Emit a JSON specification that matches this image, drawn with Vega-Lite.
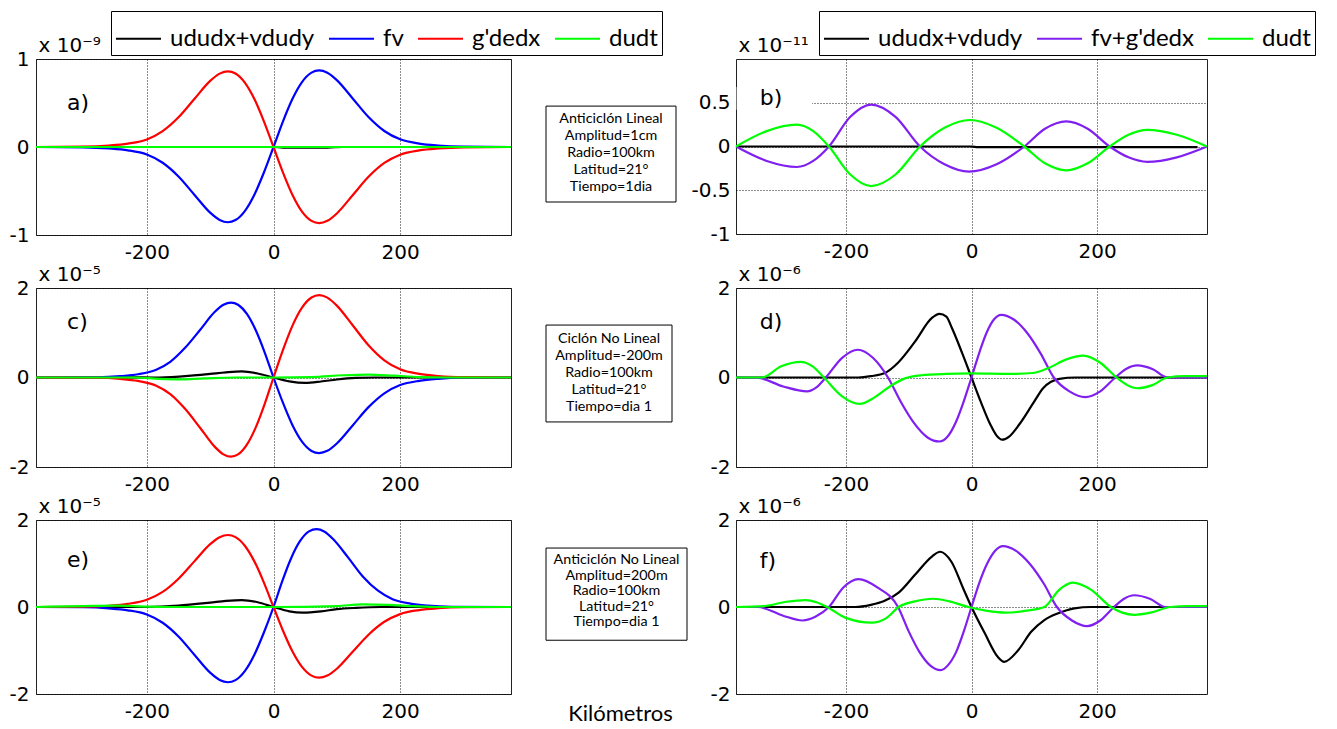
{
  "$schema": "https://vega.github.io/schema/vega-lite/v6.json",
  "autosize": {"type": "pad"},
  "padding": {"left": 5, "top": 10, "right": 5, "bottom": 2},
  "background": "white",
  "datasets": {
    "curves": [
      {"p":"a","s":"ududx+vdudy","x":-375,"y":0},{"p":"a","s":"ududx+vdudy","x":0,"y":0},{"p":"a","s":"ududx+vdudy","x":15,"y":-0.006},{"p":"a","s":"ududx+vdudy","x":85,"y":-0.006},{"p":"a","s":"ududx+vdudy","x":110,"y":0},{"p":"a","s":"ududx+vdudy","x":375,"y":0},
      {"p":"a","s":"fv","x":-375,"y":0},{"p":"a","s":"fv","x":-300,"y":-0.004},{"p":"a","s":"fv","x":-260,"y":-0.017},{"p":"a","s":"fv","x":-230,"y":-0.038},{"p":"a","s":"fv","x":-200,"y":-0.086},{"p":"a","s":"fv","x":-175,"y":-0.179},{"p":"a","s":"fv","x":-150,"y":-0.335},{"p":"a","s":"fv","x":-125,"y":-0.542},{"p":"a","s":"fv","x":-100,"y":-0.746},{"p":"a","s":"fv","x":-85,"y":-0.829},{"p":"a","s":"fv","x":-72,"y":-0.855},{"p":"a","s":"fv","x":-60,"y":-0.830},{"p":"a","s":"fv","x":-45,"y":-0.725},{"p":"a","s":"fv","x":-30,"y":-0.539},{"p":"a","s":"fv","x":-15,"y":-0.287},{"p":"a","s":"fv","x":0,"y":0},{"p":"a","s":"fv","x":15,"y":0.292},{"p":"a","s":"fv","x":30,"y":0.548},{"p":"a","s":"fv","x":45,"y":0.738},{"p":"a","s":"fv","x":60,"y":0.845},{"p":"a","s":"fv","x":72,"y":0.87},{"p":"a","s":"fv","x":85,"y":0.844},{"p":"a","s":"fv","x":100,"y":0.760},{"p":"a","s":"fv","x":125,"y":0.552},{"p":"a","s":"fv","x":150,"y":0.341},{"p":"a","s":"fv","x":175,"y":0.182},{"p":"a","s":"fv","x":200,"y":0.087},{"p":"a","s":"fv","x":230,"y":0.039},{"p":"a","s":"fv","x":260,"y":0.017},{"p":"a","s":"fv","x":300,"y":0.004},{"p":"a","s":"fv","x":375,"y":0},
      {"p":"a","s":"g'dedx","x":-375,"y":0},{"p":"a","s":"g'dedx","x":-300,"y":0.004},{"p":"a","s":"g'dedx","x":-260,"y":0.017},{"p":"a","s":"g'dedx","x":-230,"y":0.039},{"p":"a","s":"g'dedx","x":-200,"y":0.086},{"p":"a","s":"g'dedx","x":-175,"y":0.180},{"p":"a","s":"g'dedx","x":-150,"y":0.337},{"p":"a","s":"g'dedx","x":-125,"y":0.545},{"p":"a","s":"g'dedx","x":-100,"y":0.751},{"p":"a","s":"g'dedx","x":-85,"y":0.834},{"p":"a","s":"g'dedx","x":-72,"y":0.86},{"p":"a","s":"g'dedx","x":-60,"y":0.835},{"p":"a","s":"g'dedx","x":-45,"y":0.729},{"p":"a","s":"g'dedx","x":-30,"y":0.542},{"p":"a","s":"g'dedx","x":-15,"y":0.289},{"p":"a","s":"g'dedx","x":0,"y":0},{"p":"a","s":"g'dedx","x":15,"y":-0.291},{"p":"a","s":"g'dedx","x":30,"y":-0.545},{"p":"a","s":"g'dedx","x":45,"y":-0.734},{"p":"a","s":"g'dedx","x":60,"y":-0.840},{"p":"a","s":"g'dedx","x":72,"y":-0.865},{"p":"a","s":"g'dedx","x":85,"y":-0.839},{"p":"a","s":"g'dedx","x":100,"y":-0.755},{"p":"a","s":"g'dedx","x":125,"y":-0.548},{"p":"a","s":"g'dedx","x":150,"y":-0.339},{"p":"a","s":"g'dedx","x":175,"y":-0.181},{"p":"a","s":"g'dedx","x":200,"y":-0.087},{"p":"a","s":"g'dedx","x":230,"y":-0.039},{"p":"a","s":"g'dedx","x":260,"y":-0.017},{"p":"a","s":"g'dedx","x":300,"y":-0.004},{"p":"a","s":"g'dedx","x":375,"y":0},
      {"p":"a","s":"dudt","x":-375,"y":0},{"p":"a","s":"dudt","x":0,"y":0},{"p":"a","s":"dudt","x":375,"y":0},

      {"p":"c","s":"ududx+vdudy","x":-375,"y":0},{"p":"c","s":"ududx+vdudy","x":-240,"y":0.005},{"p":"c","s":"ududx+vdudy","x":-180,"y":0},{"p":"c","s":"ududx+vdudy","x":-130,"y":0.04},{"p":"c","s":"ududx+vdudy","x":-100,"y":0.08},{"p":"c","s":"ududx+vdudy","x":-75,"y":0.115},{"p":"c","s":"ududx+vdudy","x":-50,"y":0.135},{"p":"c","s":"ududx+vdudy","x":-25,"y":0.09},{"p":"c","s":"ududx+vdudy","x":0,"y":0},{"p":"c","s":"ududx+vdudy","x":25,"y":-0.085},{"p":"c","s":"ududx+vdudy","x":50,"y":-0.12},{"p":"c","s":"ududx+vdudy","x":75,"y":-0.09},{"p":"c","s":"ududx+vdudy","x":100,"y":-0.045},{"p":"c","s":"ududx+vdudy","x":130,"y":-0.01},{"p":"c","s":"ududx+vdudy","x":160,"y":0},{"p":"c","s":"ududx+vdudy","x":375,"y":0},
      {"p":"c","s":"fv","x":-375,"y":0},{"p":"c","s":"fv","x":-279,"y":0.006},{"p":"c","s":"fv","x":-242,"y":0.030},{"p":"c","s":"fv","x":-214,"y":0.072},{"p":"c","s":"fv","x":-186,"y":0.168},{"p":"c","s":"fv","x":-163,"y":0.350},{"p":"c","s":"fv","x":-140,"y":0.657},{"p":"c","s":"fv","x":-116,"y":1.062},{"p":"c","s":"fv","x":-93,"y":1.462},{"p":"c","s":"fv","x":-79,"y":1.625},{"p":"c","s":"fv","x":-67,"y":1.675},{"p":"c","s":"fv","x":-56,"y":1.626},{"p":"c","s":"fv","x":-42,"y":1.420},{"p":"c","s":"fv","x":-28,"y":1.055},{"p":"c","s":"fv","x":-14,"y":0.563},{"p":"c","s":"fv","x":0,"y":0},{"p":"c","s":"fv","x":15,"y":-0.568},{"p":"c","s":"fv","x":30,"y":-1.065},{"p":"c","s":"fv","x":45,"y":-1.433},{"p":"c","s":"fv","x":60,"y":-1.641},{"p":"c","s":"fv","x":72,"y":-1.69},{"p":"c","s":"fv","x":85,"y":-1.639},{"p":"c","s":"fv","x":100,"y":-1.475},{"p":"c","s":"fv","x":125,"y":-1.071},{"p":"c","s":"fv","x":150,"y":-0.662},{"p":"c","s":"fv","x":175,"y":-0.353},{"p":"c","s":"fv","x":200,"y":-0.169},{"p":"c","s":"fv","x":230,"y":-0.074},{"p":"c","s":"fv","x":260,"y":-0.030},{"p":"c","s":"fv","x":300,"y":-0.006},{"p":"c","s":"fv","x":375,"y":0},
      {"p":"c","s":"g'dedx","x":-375,"y":0},{"p":"c","s":"g'dedx","x":-279,"y":-0.006},{"p":"c","s":"g'dedx","x":-242,"y":-0.031},{"p":"c","s":"g'dedx","x":-214,"y":-0.076},{"p":"c","s":"g'dedx","x":-186,"y":-0.177},{"p":"c","s":"g'dedx","x":-163,"y":-0.370},{"p":"c","s":"g'dedx","x":-140,"y":-0.694},{"p":"c","s":"g'dedx","x":-116,"y":-1.122},{"p":"c","s":"g'dedx","x":-93,"y":-1.545},{"p":"c","s":"g'dedx","x":-79,"y":-1.717},{"p":"c","s":"g'dedx","x":-67,"y":-1.77},{"p":"c","s":"g'dedx","x":-56,"y":-1.719},{"p":"c","s":"g'dedx","x":-42,"y":-1.501},{"p":"c","s":"g'dedx","x":-28,"y":-1.115},{"p":"c","s":"g'dedx","x":-14,"y":-0.595},{"p":"c","s":"g'dedx","x":0,"y":0},{"p":"c","s":"g'dedx","x":15,"y":0.618},{"p":"c","s":"g'dedx","x":30,"y":1.159},{"p":"c","s":"g'dedx","x":45,"y":1.560},{"p":"c","s":"g'dedx","x":60,"y":1.787},{"p":"c","s":"g'dedx","x":72,"y":1.84},{"p":"c","s":"g'dedx","x":85,"y":1.785},{"p":"c","s":"g'dedx","x":100,"y":1.606},{"p":"c","s":"g'dedx","x":125,"y":1.167},{"p":"c","s":"g'dedx","x":150,"y":0.721},{"p":"c","s":"g'dedx","x":175,"y":0.385},{"p":"c","s":"g'dedx","x":200,"y":0.184},{"p":"c","s":"g'dedx","x":230,"y":0.081},{"p":"c","s":"g'dedx","x":260,"y":0.032},{"p":"c","s":"g'dedx","x":300,"y":0.007},{"p":"c","s":"g'dedx","x":375,"y":0},
      {"p":"c","s":"dudt","x":-375,"y":0},{"p":"c","s":"dudt","x":-220,"y":0},{"p":"c","s":"dudt","x":-180,"y":-0.03},{"p":"c","s":"dudt","x":-150,"y":-0.04},{"p":"c","s":"dudt","x":-110,"y":-0.02},{"p":"c","s":"dudt","x":-60,"y":0},{"p":"c","s":"dudt","x":0,"y":0},{"p":"c","s":"dudt","x":60,"y":0.01},{"p":"c","s":"dudt","x":110,"y":0.05},{"p":"c","s":"dudt","x":150,"y":0.065},{"p":"c","s":"dudt","x":190,"y":0.04},{"p":"c","s":"dudt","x":230,"y":0.01},{"p":"c","s":"dudt","x":270,"y":0},{"p":"c","s":"dudt","x":375,"y":0},

      {"p":"e","s":"ududx+vdudy","x":-375,"y":0},{"p":"e","s":"ududx+vdudy","x":-200,"y":0},{"p":"e","s":"ududx+vdudy","x":-150,"y":0.03},{"p":"e","s":"ududx+vdudy","x":-100,"y":0.1},{"p":"e","s":"ududx+vdudy","x":-75,"y":0.14},{"p":"e","s":"ududx+vdudy","x":-50,"y":0.16},{"p":"e","s":"ududx+vdudy","x":-25,"y":0.11},{"p":"e","s":"ududx+vdudy","x":0,"y":0},{"p":"e","s":"ududx+vdudy","x":25,"y":-0.1},{"p":"e","s":"ududx+vdudy","x":46,"y":-0.13},{"p":"e","s":"ududx+vdudy","x":75,"y":-0.1},{"p":"e","s":"ududx+vdudy","x":100,"y":-0.05},{"p":"e","s":"ududx+vdudy","x":130,"y":-0.02},{"p":"e","s":"ududx+vdudy","x":170,"y":0},{"p":"e","s":"ududx+vdudy","x":375,"y":0},
      {"p":"e","s":"fv","x":-375,"y":0},{"p":"e","s":"fv","x":-300,"y":-0.006},{"p":"e","s":"fv","x":-260,"y":-0.032},{"p":"e","s":"fv","x":-230,"y":-0.076},{"p":"e","s":"fv","x":-200,"y":-0.173},{"p":"e","s":"fv","x":-175,"y":-0.362},{"p":"e","s":"fv","x":-150,"y":-0.678},{"p":"e","s":"fv","x":-125,"y":-1.097},{"p":"e","s":"fv","x":-100,"y":-1.510},{"p":"e","s":"fv","x":-85,"y":-1.678},{"p":"e","s":"fv","x":-72,"y":-1.73},{"p":"e","s":"fv","x":-60,"y":-1.680},{"p":"e","s":"fv","x":-45,"y":-1.467},{"p":"e","s":"fv","x":-30,"y":-1.090},{"p":"e","s":"fv","x":-15,"y":-0.581},{"p":"e","s":"fv","x":0,"y":0},{"p":"e","s":"fv","x":14,"y":0.601},{"p":"e","s":"fv","x":28,"y":1.128},{"p":"e","s":"fv","x":42,"y":1.518},{"p":"e","s":"fv","x":56,"y":1.738},{"p":"e","s":"fv","x":68,"y":1.79},{"p":"e","s":"fv","x":80,"y":1.736},{"p":"e","s":"fv","x":94,"y":1.563},{"p":"e","s":"fv","x":118,"y":1.135},{"p":"e","s":"fv","x":141,"y":0.702},{"p":"e","s":"fv","x":165,"y":0.374},{"p":"e","s":"fv","x":188,"y":0.179},{"p":"e","s":"fv","x":216,"y":0.078},{"p":"e","s":"fv","x":244,"y":0.031},{"p":"e","s":"fv","x":282,"y":0.006},{"p":"e","s":"fv","x":375,"y":0},
      {"p":"e","s":"g'dedx","x":-375,"y":0},{"p":"e","s":"g'dedx","x":-300,"y":0.006},{"p":"e","s":"g'dedx","x":-260,"y":0.029},{"p":"e","s":"g'dedx","x":-230,"y":0.072},{"p":"e","s":"g'dedx","x":-200,"y":0.166},{"p":"e","s":"g'dedx","x":-175,"y":0.346},{"p":"e","s":"g'dedx","x":-150,"y":0.649},{"p":"e","s":"g'dedx","x":-125,"y":1.049},{"p":"e","s":"g'dedx","x":-100,"y":1.445},{"p":"e","s":"g'dedx","x":-85,"y":1.605},{"p":"e","s":"g'dedx","x":-72,"y":1.655},{"p":"e","s":"g'dedx","x":-60,"y":1.607},{"p":"e","s":"g'dedx","x":-45,"y":1.403},{"p":"e","s":"g'dedx","x":-30,"y":1.043},{"p":"e","s":"g'dedx","x":-15,"y":0.556},{"p":"e","s":"g'dedx","x":0,"y":0},{"p":"e","s":"g'dedx","x":15,"y":-0.546},{"p":"e","s":"g'dedx","x":30,"y":-1.024},{"p":"e","s":"g'dedx","x":45,"y":-1.378},{"p":"e","s":"g'dedx","x":60,"y":-1.578},{"p":"e","s":"g'dedx","x":72,"y":-1.625},{"p":"e","s":"g'dedx","x":85,"y":-1.576},{"p":"e","s":"g'dedx","x":100,"y":-1.419},{"p":"e","s":"g'dedx","x":125,"y":-1.030},{"p":"e","s":"g'dedx","x":150,"y":-0.637},{"p":"e","s":"g'dedx","x":175,"y":-0.340},{"p":"e","s":"g'dedx","x":200,"y":-0.163},{"p":"e","s":"g'dedx","x":230,"y":-0.071},{"p":"e","s":"g'dedx","x":260,"y":-0.029},{"p":"e","s":"g'dedx","x":300,"y":-0.006},{"p":"e","s":"g'dedx","x":375,"y":0},
      {"p":"e","s":"dudt","x":-375,"y":0},{"p":"e","s":"dudt","x":-300,"y":0.02},{"p":"e","s":"dudt","x":-250,"y":0.03},{"p":"e","s":"dudt","x":-200,"y":0.01},{"p":"e","s":"dudt","x":-150,"y":0},{"p":"e","s":"dudt","x":0,"y":0},{"p":"e","s":"dudt","x":100,"y":0.02},{"p":"e","s":"dudt","x":140,"y":0.06},{"p":"e","s":"dudt","x":180,"y":0.05},{"p":"e","s":"dudt","x":220,"y":0.02},{"p":"e","s":"dudt","x":260,"y":0},{"p":"e","s":"dudt","x":375,"y":0},

      {"p":"b","s":"ududx+vdudy","x":-375,"y":0},{"p":"b","s":"ududx+vdudy","x":0,"y":0},{"p":"b","s":"ududx+vdudy","x":10,"y":-0.007},{"p":"b","s":"ududx+vdudy","x":360,"y":-0.007},
      {"p":"b","s":"fv+g'dedx","x":-375,"y":0},{"p":"b","s":"fv+g'dedx","x":-326,"y":-0.165},{"p":"b","s":"fv+g'dedx","x":-278,"y":-0.234},{"p":"b","s":"fv+g'dedx","x":-252,"y":-0.165},{"p":"b","s":"fv+g'dedx","x":-227,"y":0},{"p":"b","s":"fv+g'dedx","x":-193,"y":0.339},{"p":"b","s":"fv+g'dedx","x":-160,"y":0.479},{"p":"b","s":"fv+g'dedx","x":-121,"y":0.339},{"p":"b","s":"fv+g'dedx","x":-82,"y":0},{"p":"b","s":"fv+g'dedx","x":-43,"y":-0.203},{"p":"b","s":"fv+g'dedx","x":-4,"y":-0.287},{"p":"b","s":"fv+g'dedx","x":40,"y":-0.203},{"p":"b","s":"fv+g'dedx","x":84,"y":0},{"p":"b","s":"fv+g'dedx","x":117,"y":0.203},{"p":"b","s":"fv+g'dedx","x":151,"y":0.287},{"p":"b","s":"fv+g'dedx","x":185,"y":0.203},{"p":"b","s":"fv+g'dedx","x":220,"y":0},{"p":"b","s":"fv+g'dedx","x":250,"y":-0.124},{"p":"b","s":"fv+g'dedx","x":280,"y":-0.176},{"p":"b","s":"fv+g'dedx","x":327,"y":-0.124},{"p":"b","s":"fv+g'dedx","x":375,"y":0},
      {"p":"b","s":"dudt","x":-375,"y":0},{"p":"b","s":"dudt","x":-326,"y":0.176},{"p":"b","s":"dudt","x":-278,"y":0.249},{"p":"b","s":"dudt","x":-252,"y":0.176},{"p":"b","s":"dudt","x":-227,"y":0},{"p":"b","s":"dudt","x":-193,"y":-0.32},{"p":"b","s":"dudt","x":-160,"y":-0.452},{"p":"b","s":"dudt","x":-121,"y":-0.32},{"p":"b","s":"dudt","x":-82,"y":0},{"p":"b","s":"dudt","x":-43,"y":0.214},{"p":"b","s":"dudt","x":-2,"y":0.303},{"p":"b","s":"dudt","x":40,"y":0.214},{"p":"b","s":"dudt","x":84,"y":0},{"p":"b","s":"dudt","x":117,"y":-0.192},{"p":"b","s":"dudt","x":151,"y":-0.272},{"p":"b","s":"dudt","x":185,"y":-0.192},{"p":"b","s":"dudt","x":220,"y":0},{"p":"b","s":"dudt","x":250,"y":0.134},{"p":"b","s":"dudt","x":280,"y":0.19},{"p":"b","s":"dudt","x":327,"y":0.134},{"p":"b","s":"dudt","x":375,"y":0},

      {"p":"d","s":"ududx+vdudy","x":-375,"y":0},{"p":"d","s":"ududx+vdudy","x":-180,"y":0},{"p":"d","s":"ududx+vdudy","x":-160,"y":0.03},{"p":"d","s":"ududx+vdudy","x":-138,"y":0.1},{"p":"d","s":"ududx+vdudy","x":-117,"y":0.33},{"p":"d","s":"ududx+vdudy","x":-90,"y":0.8},{"p":"d","s":"ududx+vdudy","x":-63,"y":1.33},{"p":"d","s":"ududx+vdudy","x":-51,"y":1.42},{"p":"d","s":"ududx+vdudy","x":-40,"y":1.36},{"p":"d","s":"ududx+vdudy","x":-31,"y":1.1},{"p":"d","s":"ududx+vdudy","x":-15,"y":0.55},{"p":"d","s":"ududx+vdudy","x":0,"y":0},{"p":"d","s":"ududx+vdudy","x":15,"y":-0.55},{"p":"d","s":"ududx+vdudy","x":30,"y":-1.05},{"p":"d","s":"ududx+vdudy","x":40,"y":-1.3},{"p":"d","s":"ududx+vdudy","x":49,"y":-1.39},{"p":"d","s":"ududx+vdudy","x":60,"y":-1.32},{"p":"d","s":"ududx+vdudy","x":76,"y":-1.05},{"p":"d","s":"ududx+vdudy","x":98,"y":-0.58},{"p":"d","s":"ududx+vdudy","x":114,"y":-0.24},{"p":"d","s":"ududx+vdudy","x":140,"y":-0.03},{"p":"d","s":"ududx+vdudy","x":165,"y":0},{"p":"d","s":"ududx+vdudy","x":375,"y":0},
      {"p":"d","s":"fv+g'dedx","x":-375,"y":0},{"p":"d","s":"fv+g'dedx","x":-340,"y":-0.01},{"p":"d","s":"fv+g'dedx","x":-300,"y":-0.2},{"p":"d","s":"fv+g'dedx","x":-262,"y":-0.31},{"p":"d","s":"fv+g'dedx","x":-247,"y":-0.22},{"p":"d","s":"fv+g'dedx","x":-232,"y":0},{"p":"d","s":"fv+g'dedx","x":-206,"y":0.44},{"p":"d","s":"fv+g'dedx","x":-181,"y":0.62},{"p":"d","s":"fv+g'dedx","x":-157,"y":0.44},{"p":"d","s":"fv+g'dedx","x":-133,"y":0},{"p":"d","s":"fv+g'dedx","x":-112,"y":-0.56},{"p":"d","s":"fv+g'dedx","x":-92,"y":-1.01},{"p":"d","s":"fv+g'dedx","x":-70,"y":-1.34},{"p":"d","s":"fv+g'dedx","x":-51,"y":-1.43},{"p":"d","s":"fv+g'dedx","x":-38,"y":-1.32},{"p":"d","s":"fv+g'dedx","x":-25,"y":-1.0},{"p":"d","s":"fv+g'dedx","x":-13,"y":-0.56},{"p":"d","s":"fv+g'dedx","x":0,"y":0},{"p":"d","s":"fv+g'dedx","x":13,"y":0.58},{"p":"d","s":"fv+g'dedx","x":24,"y":1.0},{"p":"d","s":"fv+g'dedx","x":36,"y":1.3},{"p":"d","s":"fv+g'dedx","x":47,"y":1.40},{"p":"d","s":"fv+g'dedx","x":68,"y":1.29},{"p":"d","s":"fv+g'dedx","x":89,"y":0.99},{"p":"d","s":"fv+g'dedx","x":110,"y":0.54},{"p":"d","s":"fv+g'dedx","x":131,"y":0},{"p":"d","s":"fv+g'dedx","x":156,"y":-0.31},{"p":"d","s":"fv+g'dedx","x":181,"y":-0.44},{"p":"d","s":"fv+g'dedx","x":205,"y":-0.31},{"p":"d","s":"fv+g'dedx","x":229,"y":0},{"p":"d","s":"fv+g'dedx","x":246,"y":0.19},{"p":"d","s":"fv+g'dedx","x":264,"y":0.27},{"p":"d","s":"fv+g'dedx","x":288,"y":0.19},{"p":"d","s":"fv+g'dedx","x":312,"y":0},{"p":"d","s":"fv+g'dedx","x":340,"y":0},{"p":"d","s":"fv+g'dedx","x":375,"y":0},
      {"p":"d","s":"dudt","x":-375,"y":0},{"p":"d","s":"dudt","x":-334,"y":0},{"p":"d","s":"dudt","x":-303,"y":0.25},{"p":"d","s":"dudt","x":-272,"y":0.35},{"p":"d","s":"dudt","x":-253,"y":0.25},{"p":"d","s":"dudt","x":-235,"y":0},{"p":"d","s":"dudt","x":-206,"y":-0.42},{"p":"d","s":"dudt","x":-178,"y":-0.59},{"p":"d","s":"dudt","x":-155,"y":-0.45},{"p":"d","s":"dudt","x":-130,"y":-0.2},{"p":"d","s":"dudt","x":-106,"y":-0.02},{"p":"d","s":"dudt","x":-80,"y":0.05},{"p":"d","s":"dudt","x":-40,"y":0.08},{"p":"d","s":"dudt","x":0,"y":0.09},{"p":"d","s":"dudt","x":60,"y":0.08},{"p":"d","s":"dudt","x":98,"y":0.1},{"p":"d","s":"dudt","x":124,"y":0.22},{"p":"d","s":"dudt","x":150,"y":0.40},{"p":"d","s":"dudt","x":178,"y":0.49},{"p":"d","s":"dudt","x":205,"y":0.33},{"p":"d","s":"dudt","x":231,"y":0},{"p":"d","s":"dudt","x":248,"y":-0.17},{"p":"d","s":"dudt","x":264,"y":-0.24},{"p":"d","s":"dudt","x":288,"y":-0.17},{"p":"d","s":"dudt","x":312,"y":0},{"p":"d","s":"dudt","x":340,"y":0.03},{"p":"d","s":"dudt","x":375,"y":0.03},

      {"p":"f","s":"ududx+vdudy","x":-375,"y":0},{"p":"f","s":"ududx+vdudy","x":-185,"y":0},{"p":"f","s":"ududx+vdudy","x":-160,"y":0.05},{"p":"f","s":"ududx+vdudy","x":-140,"y":0.13},{"p":"f","s":"ududx+vdudy","x":-116,"y":0.33},{"p":"f","s":"ududx+vdudy","x":-90,"y":0.74},{"p":"f","s":"ududx+vdudy","x":-63,"y":1.16},{"p":"f","s":"ududx+vdudy","x":-50,"y":1.27},{"p":"f","s":"ududx+vdudy","x":-32,"y":1.04},{"p":"f","s":"ududx+vdudy","x":-13,"y":0.42},{"p":"f","s":"ududx+vdudy","x":0,"y":0},{"p":"f","s":"ududx+vdudy","x":21,"y":-0.6},{"p":"f","s":"ududx+vdudy","x":42,"y":-1.15},{"p":"f","s":"ududx+vdudy","x":52,"y":-1.26},{"p":"f","s":"ududx+vdudy","x":74,"y":-1.0},{"p":"f","s":"ududx+vdudy","x":95,"y":-0.57},{"p":"f","s":"ududx+vdudy","x":116,"y":-0.3},{"p":"f","s":"ududx+vdudy","x":137,"y":-0.15},{"p":"f","s":"ududx+vdudy","x":164,"y":-0.03},{"p":"f","s":"ududx+vdudy","x":190,"y":0},{"p":"f","s":"ududx+vdudy","x":375,"y":0},
      {"p":"f","s":"fv+g'dedx","x":-375,"y":0},{"p":"f","s":"fv+g'dedx","x":-340,"y":0},{"p":"f","s":"fv+g'dedx","x":-300,"y":-0.2},{"p":"f","s":"fv+g'dedx","x":-269,"y":-0.31},{"p":"f","s":"fv+g'dedx","x":-248,"y":-0.22},{"p":"f","s":"fv+g'dedx","x":-227,"y":0},{"p":"f","s":"fv+g'dedx","x":-204,"y":0.45},{"p":"f","s":"fv+g'dedx","x":-180,"y":0.64},{"p":"f","s":"fv+g'dedx","x":-150,"y":0.45},{"p":"f","s":"fv+g'dedx","x":-117,"y":0},{"p":"f","s":"fv+g'dedx","x":-100,"y":-0.56},{"p":"f","s":"fv+g'dedx","x":-83,"y":-1.03},{"p":"f","s":"fv+g'dedx","x":-66,"y":-1.34},{"p":"f","s":"fv+g'dedx","x":-49,"y":-1.45},{"p":"f","s":"fv+g'dedx","x":-37,"y":-1.33},{"p":"f","s":"fv+g'dedx","x":-24,"y":-1.02},{"p":"f","s":"fv+g'dedx","x":-12,"y":-0.55},{"p":"f","s":"fv+g'dedx","x":0,"y":0},{"p":"f","s":"fv+g'dedx","x":13,"y":0.58},{"p":"f","s":"fv+g'dedx","x":25,"y":1.0},{"p":"f","s":"fv+g'dedx","x":38,"y":1.3},{"p":"f","s":"fv+g'dedx","x":50,"y":1.40},{"p":"f","s":"fv+g'dedx","x":71,"y":1.29},{"p":"f","s":"fv+g'dedx","x":93,"y":0.99},{"p":"f","s":"fv+g'dedx","x":115,"y":0.54},{"p":"f","s":"fv+g'dedx","x":136,"y":0},{"p":"f","s":"fv+g'dedx","x":160,"y":-0.31},{"p":"f","s":"fv+g'dedx","x":184,"y":-0.44},{"p":"f","s":"fv+g'dedx","x":205,"y":-0.31},{"p":"f","s":"fv+g'dedx","x":227,"y":0},{"p":"f","s":"fv+g'dedx","x":243,"y":0.19},{"p":"f","s":"fv+g'dedx","x":259,"y":0.27},{"p":"f","s":"fv+g'dedx","x":284,"y":0.19},{"p":"f","s":"fv+g'dedx","x":309,"y":0},{"p":"f","s":"fv+g'dedx","x":340,"y":0},{"p":"f","s":"fv+g'dedx","x":375,"y":0},
      {"p":"f","s":"dudt","x":-375,"y":0},{"p":"f","s":"dudt","x":-330,"y":0.02},{"p":"f","s":"dudt","x":-295,"y":0.12},{"p":"f","s":"dudt","x":-264,"y":0.16},{"p":"f","s":"dudt","x":-247,"y":0.11},{"p":"f","s":"dudt","x":-230,"y":0},{"p":"f","s":"dudt","x":-200,"y":-0.25},{"p":"f","s":"dudt","x":-159,"y":-0.36},{"p":"f","s":"dudt","x":-135,"y":-0.25},{"p":"f","s":"dudt","x":-116,"y":0},{"p":"f","s":"dudt","x":-90,"y":0.13},{"p":"f","s":"dudt","x":-61,"y":0.19},{"p":"f","s":"dudt","x":-35,"y":0.13},{"p":"f","s":"dudt","x":-5,"y":0},{"p":"f","s":"dudt","x":25,"y":-0.09},{"p":"f","s":"dudt","x":55,"y":-0.13},{"p":"f","s":"dudt","x":85,"y":-0.09},{"p":"f","s":"dudt","x":116,"y":0},{"p":"f","s":"dudt","x":140,"y":0.4},{"p":"f","s":"dudt","x":161,"y":0.56},{"p":"f","s":"dudt","x":190,"y":0.4},{"p":"f","s":"dudt","x":222,"y":0},{"p":"f","s":"dudt","x":240,"y":-0.13},{"p":"f","s":"dudt","x":259,"y":-0.18},{"p":"f","s":"dudt","x":285,"y":-0.13},{"p":"f","s":"dudt","x":317,"y":0},{"p":"f","s":"dudt","x":345,"y":0.02},{"p":"f","s":"dudt","x":375,"y":0.02}
    ],
    "boxes": [
      {"p":"m1","n":1,"t":"Anticiclón Lineal"},{"p":"m1","n":2,"t":"Amplitud=1cm"},{"p":"m1","n":3,"t":"Radio=100km"},{"p":"m1","n":4,"t":"Latitud=21°"},{"p":"m1","n":5,"t":"Tiempo=1dia"},
      {"p":"m2","n":1,"t":"Ciclón No Lineal"},{"p":"m2","n":2,"t":"Amplitud=-200m"},{"p":"m2","n":3,"t":"Radio=100km"},{"p":"m2","n":4,"t":"Latitud=21°"},{"p":"m2","n":5,"t":"Tiempo=dia 1"},
      {"p":"m3","n":1,"t":"Anticiclón No Lineal"},{"p":"m3","n":2,"t":"Amplitud=200m"},{"p":"m3","n":3,"t":"Radio=100km"},{"p":"m3","n":4,"t":"Latitud=21°"},{"p":"m3","n":5,"t":"Tiempo=dia 1"}
    ]
  },
  "columns": 3,
  "bounds": "full",
  "align": "each",
  "spacing": {"row": 0, "column": 0},
  "concat": [
    {
      "width": 475, "height": 176,
      "data": {"name": "curves"},
      "layer": [
        {
          "transform": [{"filter": "datum.p === 'a'"}],
          "mark": {"type": "line", "interpolate": "monotone", "strokeWidth": 2.2},
          "encoding": {
            "x": {"field": "x", "type": "quantitative", "scale": {"domain": [-375, 375], "nice": false, "zero": false}, "axis": {"values": [-200, 0, 200], "title": null, "labelPadding": 7}},
            "y": {"field": "y", "type": "quantitative", "scale": {"domain": [-1, 1], "nice": false}, "axis": {"values": [-1, 0, 1], "title": "x 10⁻⁹", "minExtent": 30, "maxExtent": 30}},
            "color": {"field": "s", "type": "nominal", "scale": {"domain": ["ududx+vdudy", "fv", "g'dedx", "dudt"], "range": ["#000000", "#0000FF", "#FF0000", "#00FF00"]}, "legend": {"orient": "none", "legendX": 75, "legendY": -48}}
          }
        },
        {
          "data": {"values": [{"t": "a)"}]},
          "mark": {"type": "text", "align": "left", "baseline": "middle", "fontSize": 22, "font": "DejaVu Sans"},
          "encoding": {"x": {"datum": -326, "type": "quantitative"}, "y": {"datum": 0.5, "type": "quantitative"}, "text": {"field": "t"}}
        }
      ]
    },
    {
      "width": 130, "height": 176,
      "view": {"stroke": null},
      "layer": [
        {
          "data": {"values": [{"box": "m1"}]},
          "mark": {"type": "rect", "fill": "white", "stroke": "black", "strokeWidth": 1},
          "encoding": {
            "y": {"datum": 0.24, "type": "quantitative", "scale": {"domain": [-2.53, 7.82], "reverse": true, "nice": false, "zero": false}, "axis": {"orient": "left", "title": null, "values": [0], "labelOpacity": 0, "labelFontSize": 8, "ticks": false, "domain": false, "grid": false, "minExtent": 30, "maxExtent": 30}},
            "y2": {"datum": 5.88}
          }
        },
        {
          "data": {"name": "boxes"},
          "transform": [{"filter": "datum.p === 'm1'"}],
          "mark": {"type": "text", "font": "Lato", "fontSize": 14.3, "color": "black"},
          "encoding": {"y": {"field": "n", "type": "quantitative"}, "text": {"field": "t"}}
        }
      ]
    },
    {
      "width": 471, "height": 175,
      "data": {"name": "curves"},
      "layer": [
        {
          "data": {"values": [{"t": "b)"}]},
          "mark": {"type": "rect", "fill": "white", "stroke": null},
          "encoding": {"x": {"datum": -374, "type": "quantitative"}, "x2": {"datum": -254}, "y": {"datum": 0.42, "type": "quantitative"}, "y2": {"datum": 0.68}}
        },
        {
          "transform": [{"filter": "datum.p === 'b'"}],
          "mark": {"type": "line", "interpolate": "monotone", "strokeWidth": 2.2},
          "encoding": {
            "x": {"field": "x", "type": "quantitative", "scale": {"domain": [-375, 375], "nice": false, "zero": false}, "axis": {"values": [-200, 0, 200], "title": null, "labelPadding": 7}},
            "y": {"field": "y", "type": "quantitative", "scale": {"domain": [-1, 1], "nice": false}, "axis": {"values": [-1, -0.5, 0, 0.5], "title": "x 10⁻¹¹", "labelPadding": 6, "minExtent": 47, "maxExtent": 47}},
            "stroke": {"field": "s", "type": "nominal", "scale": {"domain": ["ududx+vdudy", "fv+g'dedx", "dudt"], "range": ["#000000", "#8020F0", "#00FF00"]}, "legend": {"orient": "none", "legendX": 783, "legendY": -48}}
          }
        },
        {
          "data": {"values": [{"t": "b)"}]},
          "mark": {"type": "text", "align": "left", "baseline": "middle", "fontSize": 22, "font": "DejaVu Sans"},
          "encoding": {"x": {"datum": -337, "type": "quantitative"}, "y": {"datum": 0.55, "type": "quantitative"}, "text": {"field": "t"}}
        }
      ]
    },
    {
      "width": 475, "height": 179,
      "data": {"name": "curves"},
      "layer": [
        {
          "transform": [{"filter": "datum.p === 'c'"}],
          "mark": {"type": "line", "interpolate": "monotone", "strokeWidth": 2.2},
          "encoding": {
            "x": {"field": "x", "type": "quantitative", "scale": {"domain": [-375, 375], "nice": false, "zero": false}, "axis": {"values": [-200, 0, 200], "title": null, "labelPadding": 7}},
            "y": {"field": "y", "type": "quantitative", "scale": {"domain": [-2, 2], "nice": false}, "axis": {"values": [-2, 0, 2], "title": "x 10⁻⁵", "minExtent": 30, "maxExtent": 30}},
            "color": {"field": "s", "type": "nominal", "scale": {"domain": ["ududx+vdudy", "fv", "g'dedx", "dudt"], "range": ["#000000", "#0000FF", "#FF0000", "#00FF00"]}, "legend": {"orient": "none", "legendX": 75, "legendY": -48}}
          }
        },
        {
          "data": {"values": [{"t": "c)"}]},
          "mark": {"type": "text", "align": "left", "baseline": "middle", "fontSize": 22, "font": "DejaVu Sans"},
          "encoding": {"x": {"datum": -326, "type": "quantitative"}, "y": {"datum": 1.24, "type": "quantitative"}, "text": {"field": "t"}}
        }
      ]
    },
    {
      "width": 126, "height": 179,
      "view": {"stroke": null},
      "layer": [
        {
          "data": {"values": [{"box": "m2"}]},
          "mark": {"type": "rect", "fill": "white", "stroke": "black", "strokeWidth": 1},
          "encoding": {
            "y": {"datum": 0.18, "type": "quantitative", "scale": {"domain": [-2.0, 8.53], "reverse": true, "nice": false, "zero": false}, "axis": {"orient": "left", "title": null, "values": [0], "labelOpacity": 0, "labelFontSize": 8, "ticks": false, "domain": false, "grid": false, "minExtent": 30, "maxExtent": 30}},
            "y2": {"datum": 5.88}
          }
        },
        {
          "data": {"name": "boxes"},
          "transform": [{"filter": "datum.p === 'm2'"}],
          "mark": {"type": "text", "font": "Lato", "fontSize": 14.3, "color": "black"},
          "encoding": {"y": {"field": "n", "type": "quantitative"}, "text": {"field": "t"}}
        }
      ]
    },
    {
      "width": 471, "height": 179,
      "data": {"name": "curves"},
      "layer": [
        {
          "transform": [{"filter": "datum.p === 'd'"}],
          "mark": {"type": "line", "interpolate": "monotone", "strokeWidth": 2.2},
          "encoding": {
            "x": {"field": "x", "type": "quantitative", "scale": {"domain": [-375, 375], "nice": false, "zero": false}, "axis": {"values": [-200, 0, 200], "title": null, "labelPadding": 7}},
            "y": {"field": "y", "type": "quantitative", "scale": {"domain": [-2, 2], "nice": false}, "axis": {"values": [-2, 0, 2], "title": "x 10⁻⁶", "labelPadding": 6, "minExtent": 47, "maxExtent": 47}},
            "stroke": {"field": "s", "type": "nominal", "scale": {"domain": ["ududx+vdudy", "fv+g'dedx", "dudt"], "range": ["#000000", "#8020F0", "#00FF00"]}, "legend": {"orient": "none", "legendX": 783, "legendY": -48}}
          }
        },
        {
          "data": {"values": [{"t": "d)"}]},
          "mark": {"type": "text", "align": "left", "baseline": "middle", "fontSize": 22, "font": "DejaVu Sans"},
          "encoding": {"x": {"datum": -337, "type": "quantitative"}, "y": {"datum": 1.23, "type": "quantitative"}, "text": {"field": "t"}}
        }
      ]
    },
    {
      "width": 475, "height": 174,
      "data": {"name": "curves"},
      "layer": [
        {
          "transform": [{"filter": "datum.p === 'e'"}],
          "mark": {"type": "line", "interpolate": "monotone", "strokeWidth": 2.2},
          "encoding": {
            "x": {"field": "x", "type": "quantitative", "scale": {"domain": [-375, 375], "nice": false, "zero": false}, "axis": {"values": [-200, 0, 200], "title": null, "labelPadding": 7}},
            "y": {"field": "y", "type": "quantitative", "scale": {"domain": [-2, 2], "nice": false}, "axis": {"values": [-2, 0, 2], "title": "x 10⁻⁵", "minExtent": 30, "maxExtent": 30}},
            "color": {"field": "s", "type": "nominal", "scale": {"domain": ["ududx+vdudy", "fv", "g'dedx", "dudt"], "range": ["#000000", "#0000FF", "#FF0000", "#00FF00"]}, "legend": {"orient": "none", "legendX": 75, "legendY": -48}}
          }
        },
        {
          "data": {"values": [{"t": "e)"}]},
          "mark": {"type": "text", "align": "left", "baseline": "middle", "fontSize": 22, "font": "DejaVu Sans"},
          "encoding": {"x": {"datum": -326, "type": "quantitative"}, "y": {"datum": 1.09, "type": "quantitative"}, "text": {"field": "t"}}
        }
      ]
    },
    {
      "width": 141, "height": 174,
      "view": {"stroke": null},
      "title": {"text": "Kilómetros", "orient": "bottom", "anchor": "middle", "frame": "group", "offset": 10, "dx": 4, "font": "Lato", "fontSize": 22, "fontWeight": "normal", "color": "black"},
      "layer": [
        {
          "data": {"values": [{"box": "m3"}]},
          "mark": {"type": "rect", "fill": "white", "stroke": "black", "strokeWidth": 1},
          "encoding": {
            "y": {"datum": 0.21, "type": "quantitative", "scale": {"domain": [-1.6, 9.63], "reverse": true, "nice": false, "zero": false}, "axis": {"orient": "left", "title": null, "values": [0], "labelOpacity": 0, "labelFontSize": 8, "ticks": false, "domain": false, "grid": false, "minExtent": 30, "maxExtent": 30}},
            "y2": {"datum": 6.16}
          }
        },
        {
          "data": {"name": "boxes"},
          "transform": [{"filter": "datum.p === 'm3'"}],
          "mark": {"type": "text", "font": "Lato", "fontSize": 14.3, "color": "black"},
          "encoding": {"y": {"field": "n", "type": "quantitative"}, "text": {"field": "t"}}
        }
      ]
    },
    {
      "width": 471, "height": 174,
      "data": {"name": "curves"},
      "layer": [
        {
          "transform": [{"filter": "datum.p === 'f'"}],
          "mark": {"type": "line", "interpolate": "monotone", "strokeWidth": 2.2},
          "encoding": {
            "x": {"field": "x", "type": "quantitative", "scale": {"domain": [-375, 375], "nice": false, "zero": false}, "axis": {"values": [-200, 0, 200], "title": null, "labelPadding": 7}},
            "y": {"field": "y", "type": "quantitative", "scale": {"domain": [-2, 2], "nice": false}, "axis": {"values": [-2, 0, 2], "title": "x 10⁻⁶", "labelPadding": 6, "minExtent": 47, "maxExtent": 47}},
            "stroke": {"field": "s", "type": "nominal", "scale": {"domain": ["ududx+vdudy", "fv+g'dedx", "dudt"], "range": ["#000000", "#8020F0", "#00FF00"]}, "legend": {"orient": "none", "legendX": 783, "legendY": -48}}
          }
        },
        {
          "data": {"values": [{"t": "f)"}]},
          "mark": {"type": "text", "align": "left", "baseline": "middle", "fontSize": 22, "font": "DejaVu Sans"},
          "encoding": {"x": {"datum": -337, "type": "quantitative"}, "y": {"datum": 1.06, "type": "quantitative"}, "text": {"field": "t"}}
        }
      ]
    }
  ],
  "config": {
    "view": {"stroke": "#222222", "strokeWidth": 1},
    "axis": {
      "labelFont": "DejaVu Sans", "labelFontSize": 20, "labelColor": "black",
      "labelExpr": "'' + datum.value",
      "ticks": false, "domain": false,
      "grid": true, "gridColor": "black", "gridDash": [1, 2], "gridOpacity": 0.9, "gridWidth": 1,
      "labelPadding": 7,
      "titleFont": "DejaVu Sans", "titleFontSize": 20, "titleFontWeight": "normal", "titleColor": "black"
    },
    "axisY": {"titleAngle": 0, "titleAlign": "left", "titleBaseline": "alphabetic", "titleX": 2, "titleY": -8},
    "legend": {
      "direction": "horizontal", "title": null, "symbolType": "stroke", "symbolSize": 2025, "symbolStrokeWidth": 2,
      "labelFont": "Lato", "labelFontSize": 24, "labelColor": "black", "labelLimit": 400,
      "strokeColor": "black", "fillColor": "white", "padding": 4, "columnPadding": 10, "labelOffset": 8
    }
  }
}
